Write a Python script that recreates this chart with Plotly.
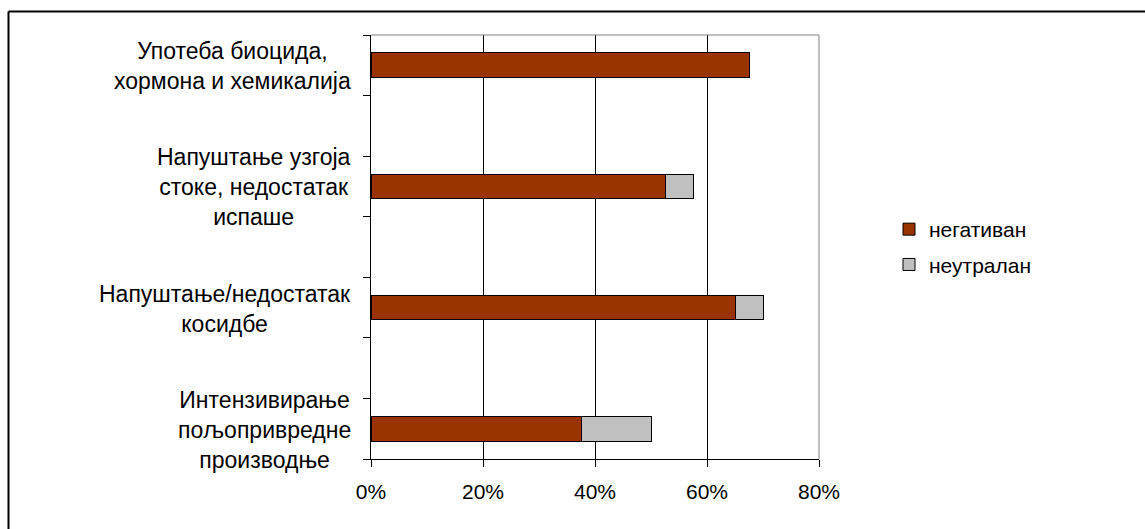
import plotly.graph_objects as go

categories = [
    "Употеба биоцида,<br>хормона и хемикалија",
    "Напуштање узгоја<br>стоке, недостатак<br>испаше",
    "Напуштање/недостатак<br>косидбе",
    "Интензивирање<br>пољопривредне<br>производње",
]
negative = [0.675, 0.525, 0.65, 0.375]
neutral = [0.0, 0.05, 0.05, 0.125]
series_names = ["негативан", "неутралан"]
x_ticks = [0, 0.2, 0.4, 0.6, 0.8]
x_tick_labels = ["0%", "20%", "40%", "60%", "80%"]

FONT = "Arial, Liberation Sans, sans-serif"
W, H = 1145, 529
L, R, T, B = 371, 326, 35, 70

# categories occupy every other slot (Excel-style empty rows between)
pos = [2 * i for i in range(len(categories))]
n_slots = 2 * len(categories) - 1

fig = go.Figure()
fig.add_trace(go.Bar(
    y=pos, x=negative, orientation="h", name=series_names[0],
    marker=dict(color="#993300", line=dict(color="#000000", width=1)),
    width=0.41, legendgroup="a",
))
fig.add_trace(go.Bar(
    y=pos, x=neutral, orientation="h", name=series_names[1],
    marker=dict(color="#C0C0C0", line=dict(color="#000000", width=1)),
    width=0.41, legendgroup="b",
))

for p, label in zip(pos, categories):
    fig.add_annotation(
        x=(353 - L) / (W - L - R), xref="paper", xanchor="right",
        y=p, yref="y", yanchor="middle", yshift=-1,
        text=label, showarrow=False, align="center",
        font=dict(family=FONT, size=23, color="#000000"),
    )

# plot area border (top/right, gray)
fig.add_shape(type="line", xref="paper", yref="paper", x0=0, x1=1, y0=1, y1=1,
              line=dict(color="#808080", width=1), layer="above")
fig.add_shape(type="line", xref="paper", yref="paper", x0=1, x1=1, y0=0, y1=1,
              line=dict(color="#808080", width=1), layer="above")
# chart area border (only top and left visible)
fig.add_shape(type="line", xref="paper", yref="paper",
              x0=(8.5 - L) / (W - L - R), x1=1.8,
              y0=1 + (T - 11.5) / (H - T - B), y1=1 + (T - 11.5) / (H - T - B),
              line=dict(color="#000000", width=2))
fig.add_shape(type="line", xref="paper", yref="paper",
              x0=(8.5 - L) / (W - L - R), x1=(8.5 - L) / (W - L - R),
              y0=1 + (T - 11.5) / (H - T - B), y1=-0.5,
              line=dict(color="#000000", width=2))

fig.update_layout(
    width=W, height=H,
    margin=dict(l=L, r=R, t=T, b=B, pad=0),
    barmode="stack",
    paper_bgcolor="#FFFFFF", plot_bgcolor="#FFFFFF",
    font=dict(family=FONT, size=21, color="#000000"),
    showlegend=True,
    legend=dict(
        x=(929 - 40 - L) / (W - L - R), xanchor="left",
        y=0.5, yanchor="middle",
        traceorder="grouped", tracegroupgap=5,
        font=dict(family=FONT, size=21, color="#000000"),
        bgcolor="rgba(0,0,0,0)", borderwidth=0,
    ),
    xaxis=dict(
        range=[0, 0.8], tickvals=x_ticks, ticktext=x_tick_labels,
        showgrid=True, gridcolor="#000000", gridwidth=1,
        showline=True, linecolor="#000000", linewidth=1,
        ticks="outside", ticklen=7, tickcolor="#000000",
        ticklabelstandoff=7,
        tickfont=dict(family=FONT, size=21, color="#000000"),
        zeroline=False, fixedrange=True,
    ),
    yaxis=dict(
        range=[n_slots - 0.5, -0.5],
        tickvals=[k - 0.5 for k in range(n_slots + 1)],
        showticklabels=False,
        showgrid=False, zeroline=False,
        showline=True, linecolor="#000000", linewidth=1,
        ticks="outside", ticklen=7, tickcolor="#000000",
        fixedrange=True,
    ),
)

fig.write_html("out.html")
